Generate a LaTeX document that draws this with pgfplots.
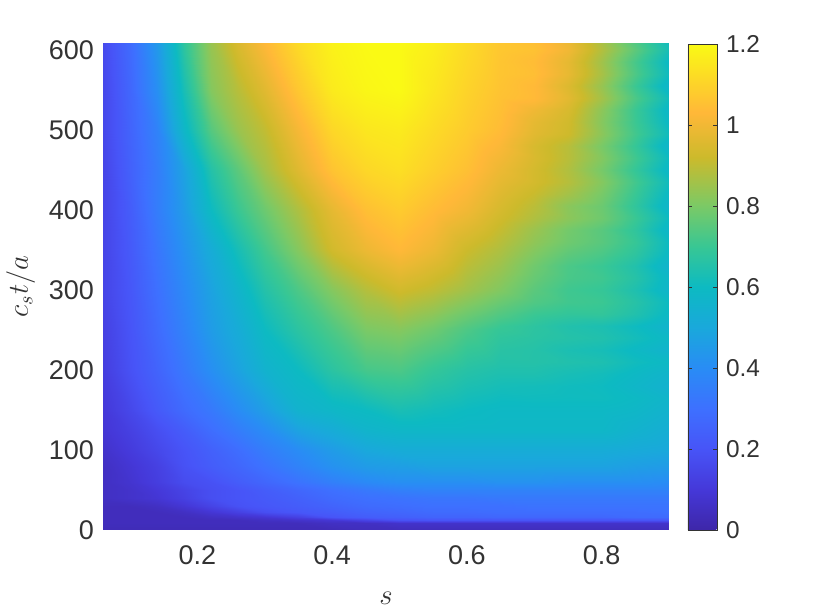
\documentclass[border=0pt]{standalone}
\usepackage{fontspec}
\setmainfont{Liberation Sans}
\usepackage{pgfplots}
\pgfplotsset{compat=1.18}
\definecolor{labgray}{rgb}{0.2,0.2,0.2}
\begin{document}
\begin{tikzpicture}
\path[use as bounding box] (-51.5pt,-40pt) rectangle (363.5pt,265pt);
\begin{axis}[
  at={(0pt,0pt)}, anchor=south west,
  scale only axis, width=283pt, height=243.5pt,
  view={0}{90},
  xmin=0.06, xmax=0.9, ymin=0, ymax=609,
  enlargelimits=false,
  axis line style={draw=none},
  tick style={draw=none},
  xtick={0.2,0.4,0.6,0.8},
  xticklabels={0.2,0.4,0.6,0.8},
  ytick={0,100,200,300,400,500,600},
  yticklabels={0,100,200,300,400,500,600},
  tick label style={font=\fontsize{13.5}{13.5}\selectfont, text=labgray},
  xticklabel style={yshift=-4.5pt},
  yticklabel style={xshift=-1pt},
  xlabel={$s$}, ylabel={$c_s t/a$},
  xlabel style={yshift=-6.5pt},
  label style={font=\fontsize{14}{14}\selectfont, text=labgray},
  % colours, position = value*100
  colormap={parula}{
    rgb(0pt)=(0.2422,0.1504,0.6603); rgb(10pt)=(0.27,0.22,0.85);
    rgb(20pt)=(0.28,0.33,0.97); rgb(30pt)=(0.24,0.44,1);
    rgb(40pt)=(0.16,0.55,0.96); rgb(50pt)=(0.10,0.66,0.86);
    rgb(60pt)=(0.05,0.73,0.76); rgb(70pt)=(0.22,0.78,0.58);
    rgb(80pt)=(0.48,0.79,0.40); rgb(92pt)=(0.80,0.73,0.17);
    rgb(103pt)=(1,0.72,0.22); rgb(120pt)=(0.98,0.98,0.08)},
  point meta min=0, point meta max=1.2,
  colorbar,
  colorbar style={
    at={(parent axis.south east)}, anchor=south west, xshift=1pt,
    width=14.5pt, height=243pt,
    ytick={0,0.2,0.4,0.6,0.8,1,1.2},
    yticklabels={0,0.2,0.4,0.6,0.8,1,1.2},
    tick align=inside, major tick length=2pt,
    axis line style={draw=labgray},
    tick style={draw=labgray},
    tick label style={font=\fontsize{12.2}{12.2}\selectfont, text=labgray},
    yticklabel style={xshift=1pt},
  },
]
% main field
\addplot3[surf, shader=interp, mesh/cols=19] table[row sep=\\] {
x y z\\
0.06 0 .03\\ 0.10 0 .03\\ 0.14 0 .03\\ 0.18 0 .03\\ 0.22 0 .03\\ 0.26 0 .03\\ 0.30 0 .03\\ 0.35 0 .03\\ 0.40 0 .03\\ 0.45 0 .04\\ 0.50 0 .04\\ 0.55 0 .04\\ 0.60 0 .04\\ 0.65 0 .04\\ 0.70 0 .04\\ 0.75 0 .04\\ 0.80 0 .04\\ 0.85 0 .04\\ 0.90 0 .04\\
0.06 9 .04\\ 0.10 9 .04\\ 0.14 9 .04\\ 0.18 9 .04\\ 0.22 9 .04\\ 0.26 9 .04\\ 0.30 9 .04\\ 0.35 9 .04\\ 0.40 9 .055\\ 0.45 9 .055\\ 0.50 9 .07\\ 0.55 9 .07\\ 0.60 9 .07\\ 0.65 9 .07\\ 0.70 9 .07\\ 0.75 9 .07\\ 0.80 9 .07\\ 0.85 9 .07\\ 0.90 9 .07\\
0.06 12 .04\\ 0.10 12 .04\\ 0.14 12 .04\\ 0.18 12 .04\\ 0.22 12 .04\\ 0.26 12 .04\\ 0.30 12 .055\\ 0.35 12 .07\\ 0.40 12 .09\\ 0.45 12 .14\\ 0.50 12 .19\\ 0.55 12 .20\\ 0.60 12 .20\\ 0.65 12 .20\\ 0.70 12 .20\\ 0.75 12 .20\\ 0.80 12 .20\\ 0.85 12 .20\\ 0.90 12 .20\\
0.06 16 .04\\ 0.10 16 .04\\ 0.14 16 .04\\ 0.18 16 .04\\ 0.22 16 .055\\ 0.26 16 .07\\ 0.30 16 .09\\ 0.35 16 .13\\ 0.40 16 .20\\ 0.45 16 .23\\ 0.50 16 .24\\ 0.55 16 .255\\ 0.60 16 .255\\ 0.65 16 .265\\ 0.70 16 .265\\ 0.75 16 .265\\ 0.80 16 .265\\ 0.85 16 .28\\ 0.90 16 .28\\
0.06 22 .04\\ 0.10 22 .04\\ 0.14 22 .04\\ 0.18 22 .055\\ 0.22 22 .09\\ 0.26 22 .13\\ 0.30 22 .18\\ 0.35 22 .21\\ 0.40 22 .23\\ 0.45 22 .255\\ 0.50 22 .265\\ 0.55 22 .28\\ 0.60 22 .28\\ 0.65 22 .29\\ 0.70 22 .29\\ 0.75 22 .29\\ 0.80 22 .29\\ 0.85 22 .29\\ 0.90 22 .30\\
0.06 30 .04\\ 0.10 30 .04\\ 0.14 30 .055\\ 0.18 30 .09\\ 0.22 30 .14\\ 0.26 30 .19\\ 0.30 30 .21\\ 0.35 30 .23\\ 0.40 30 .255\\ 0.45 30 .28\\ 0.50 30 .29\\ 0.55 30 .30\\ 0.60 30 .30\\ 0.65 30 .30\\ 0.70 30 .31\\ 0.75 30 .31\\ 0.80 30 .31\\ 0.85 30 .31\\ 0.90 30 .31\\
0.06 40 .055\\ 0.10 40 .07\\ 0.14 40 .09\\ 0.18 40 .13\\ 0.22 40 .18\\ 0.26 40 .20\\ 0.30 40 .22\\ 0.35 40 .245\\ 0.40 40 .28\\ 0.45 40 .30\\ 0.50 40 .31\\ 0.55 40 .32\\ 0.60 40 .32\\ 0.65 40 .33\\ 0.70 40 .33\\ 0.75 40 .33\\ 0.80 40 .33\\ 0.85 40 .33\\ 0.90 40 .33\\
0.06 50 .055\\ 0.10 50 .07\\ 0.14 50 .10\\ 0.18 50 .14\\ 0.22 50 .18\\ 0.26 50 .20\\ 0.30 50 .23\\ 0.35 50 .265\\ 0.40 50 .30\\ 0.45 50 .33\\ 0.50 50 .355\\ 0.55 50 .365\\ 0.60 50 .365\\ 0.65 50 .365\\ 0.70 50 .365\\ 0.75 50 .365\\ 0.80 50 .365\\ 0.85 50 .365\\ 0.90 50 .365\\
0.06 60 .055\\ 0.10 60 .08\\ 0.14 60 .12\\ 0.18 60 .17\\ 0.22 60 .19\\ 0.26 60 .23\\ 0.30 60 .265\\ 0.35 60 .31\\ 0.40 60 .355\\ 0.45 60 .39\\ 0.50 60 .41\\ 0.55 60 .41\\ 0.60 60 .41\\ 0.65 60 .42\\ 0.70 60 .42\\ 0.75 60 .41\\ 0.80 60 .41\\ 0.85 60 .41\\ 0.90 60 .40\\
0.06 80 .055\\ 0.10 80 .09\\ 0.14 80 .13\\ 0.18 80 .19\\ 0.22 80 .23\\ 0.26 80 .265\\ 0.30 80 .31\\ 0.35 80 .365\\ 0.40 80 .42\\ 0.45 80 .455\\ 0.50 80 .465\\ 0.55 80 .48\\ 0.60 80 .48\\ 0.65 80 .48\\ 0.70 80 .48\\ 0.75 80 .48\\ 0.80 80 .48\\ 0.85 80 .465\\ 0.90 80 .455\\
0.06 100 .07\\ 0.10 100 .11\\ 0.14 100 .155\\ 0.18 100 .20\\ 0.22 100 .245\\ 0.26 100 .29\\ 0.30 100 .345\\ 0.35 100 .40\\ 0.40 100 .455\\ 0.45 100 .50\\ 0.50 100 .52\\ 0.55 100 .52\\ 0.60 100 .52\\ 0.65 100 .52\\ 0.70 100 .52\\ 0.75 100 .52\\ 0.80 100 .52\\ 0.85 100 .51\\ 0.90 100 .50\\
0.06 125 .09\\ 0.10 125 .13\\ 0.14 125 .18\\ 0.18 125 .23\\ 0.22 125 .29\\ 0.26 125 .345\\ 0.30 125 .40\\ 0.35 125 .48\\ 0.40 125 .52\\ 0.45 125 .565\\ 0.50 125 .58\\ 0.55 125 .58\\ 0.60 125 .58\\ 0.65 125 .58\\ 0.70 125 .58\\ 0.75 125 .58\\ 0.80 125 .58\\ 0.85 125 .555\\ 0.90 125 .53\\
0.06 150 .10\\ 0.10 150 .155\\ 0.14 150 .22\\ 0.18 150 .28\\ 0.22 150 .33\\ 0.26 150 .40\\ 0.30 150 .465\\ 0.35 150 .555\\ 0.40 150 .58\\ 0.45 150 .60\\ 0.50 150 .63\\ 0.55 150 .615\\ 0.60 150 .60\\ 0.65 150 .59\\ 0.70 150 .59\\ 0.75 150 .59\\ 0.80 150 .59\\ 0.85 150 .58\\ 0.90 150 .555\\
0.06 200 .12\\ 0.10 200 .19\\ 0.14 200 .255\\ 0.18 200 .33\\ 0.22 200 .41\\ 0.26 200 .48\\ 0.30 200 .555\\ 0.35 200 .60\\ 0.40 200 .67\\ 0.45 200 .72\\ 0.50 200 .73\\ 0.55 200 .69\\ 0.60 200 .66\\ 0.65 200 .645\\ 0.70 200 .645\\ 0.75 200 .63\\ 0.80 200 .62\\ 0.85 200 .59\\ 0.90 200 .565\\
0.06 250 .13\\ 0.10 250 .20\\ 0.14 250 .28\\ 0.18 250 .365\\ 0.22 250 .455\\ 0.26 250 .52\\ 0.30 250 .60\\ 0.35 250 .67\\ 0.40 250 .73\\ 0.45 250 .80\\ 0.50 250 .815\\ 0.55 250 .78\\ 0.60 250 .73\\ 0.65 250 .69\\ 0.70 250 .67\\ 0.75 250 .655\\ 0.80 250 .645\\ 0.85 250 .615\\ 0.90 250 .58\\
0.06 300 .145\\ 0.10 300 .21\\ 0.14 300 .30\\ 0.18 300 .39\\ 0.22 300 .48\\ 0.26 300 .565\\ 0.30 300 .655\\ 0.35 300 .73\\ 0.40 300 .815\\ 0.45 300 .885\\ 0.50 300 .93\\ 0.55 300 .90\\ 0.60 300 .855\\ 0.65 300 .81\\ 0.70 300 .755\\ 0.75 300 .715\\ 0.80 300 .68\\ 0.85 300 .63\\ 0.90 300 .58\\
0.06 350 .145\\ 0.10 350 .22\\ 0.14 350 .32\\ 0.18 350 .42\\ 0.22 350 .52\\ 0.26 350 .625\\ 0.30 350 .715\\ 0.35 350 .815\\ 0.40 350 .93\\ 0.45 350 .99\\ 0.50 350 1.03\\ 0.55 350 .99\\ 0.60 350 .92\\ 0.65 350 .875\\ 0.70 350 .81\\ 0.75 350 .755\\ 0.80 350 .705\\ 0.85 350 .655\\ 0.90 350 .58\\
0.06 400 .145\\ 0.10 400 .23\\ 0.14 400 .345\\ 0.18 400 .455\\ 0.22 400 .60\\ 0.26 400 .70\\ 0.30 400 .78\\ 0.35 400 .875\\ 0.40 400 .975\\ 0.45 400 1.05\\ 0.50 400 1.08\\ 0.55 400 1.04\\ 0.60 400 1.00\\ 0.65 400 .94\\ 0.70 400 .895\\ 0.75 400 .83\\ 0.80 400 .765\\ 0.85 400 .68\\ 0.90 400 .59\\
0.06 450 .145\\ 0.10 450 .245\\ 0.14 450 .345\\ 0.18 450 .48\\ 0.22 450 .655\\ 0.26 450 .755\\ 0.30 450 .86\\ 0.35 450 .96\\ 0.40 450 1.06\\ 0.45 450 1.11\\ 0.50 450 1.13\\ 0.55 450 1.09\\ 0.60 450 1.05\\ 0.65 450 .99\\ 0.70 450 .94\\ 0.75 450 .885\\ 0.80 450 .78\\ 0.85 450 .68\\ 0.90 450 .59\\
0.06 500 .155\\ 0.10 500 .255\\ 0.14 500 .365\\ 0.18 500 .58\\ 0.22 500 .745\\ 0.26 500 .845\\ 0.30 500 .905\\ 0.35 500 1.01\\ 0.40 500 1.11\\ 0.45 500 1.15\\ 0.50 500 1.16\\ 0.55 500 1.12\\ 0.60 500 1.08\\ 0.65 500 1.04\\ 0.70 500 .96\\ 0.75 500 .915\\ 0.80 500 .80\\ 0.85 500 .70\\ 0.90 500 .59\\
0.06 550 .155\\ 0.10 550 .265\\ 0.14 550 .41\\ 0.18 550 .63\\ 0.22 550 .815\\ 0.26 550 .89\\ 0.30 550 .965\\ 0.35 550 1.07\\ 0.40 550 1.16\\ 0.45 550 1.19\\ 0.50 550 1.20\\ 0.55 550 1.15\\ 0.60 550 1.10\\ 0.65 550 1.06\\ 0.70 550 1.04\\ 0.75 550 .96\\ 0.80 550 .85\\ 0.85 550 .72\\ 0.90 550 .59\\
0.06 609 .165\\ 0.10 609 .28\\ 0.14 609 .445\\ 0.18 609 .68\\ 0.22 609 .845\\ 0.26 609 .95\\ 0.30 609 1.03\\ 0.35 609 1.12\\ 0.40 609 1.18\\ 0.45 609 1.20\\ 0.50 609 1.20\\ 0.55 609 1.17\\ 0.60 609 1.12\\ 0.65 609 1.07\\ 0.70 609 1.05\\ 0.75 609 .99\\ 0.80 609 .87\\ 0.85 609 .74\\ 0.90 609 .61\\
};
% horizontal streaks towards the right edge
\addplot3[surf, shader=interp, mesh/cols=6] table[row sep=\\] {
x y z\\
0.65 150 .59\\ 0.70 150 .59\\ 0.75 150 .59\\ 0.80 150 .59\\ 0.85 150 .58\\ 0.90 150 .555\\
0.65 165 .605\\ 0.70 165 .608\\ 0.75 165 .606\\ 0.80 165 .607\\ 0.85 165 .593\\ 0.90 165 .568\\
0.65 180 .62\\ 0.70 180 .617\\ 0.75 180 .609\\ 0.80 180 .603\\ 0.85 180 .577\\ 0.90 180 .55\\
0.65 195 .64\\ 0.70 195 .64\\ 0.75 195 .625\\ 0.80 195 .615\\ 0.85 195 .59\\ 0.90 195 .565\\
0.65 210 .655\\ 0.70 210 .656\\ 0.75 210 .647\\ 0.80 210 .639\\ 0.85 210 .611\\ 0.90 210 .59\\
0.65 225 .665\\ 0.70 225 .657\\ 0.75 225 .634\\ 0.80 225 .623\\ 0.85 225 .592\\ 0.90 225 .56\\
0.65 240 .68\\ 0.70 240 .668\\ 0.75 240 .656\\ 0.80 240 .647\\ 0.85 240 .618\\ 0.90 240 .585\\
0.65 255 .70\\ 0.70 255 .674\\ 0.75 255 .648\\ 0.80 255 .636\\ 0.85 255 .604\\ 0.90 255 .56\\
0.65 270 .74\\ 0.70 270 .703\\ 0.75 270 .686\\ 0.80 270 .687\\ 0.85 270 .648\\ 0.90 270 .59\\
0.65 285 .775\\ 0.70 285 .736\\ 0.75 285 .712\\ 0.80 285 .704\\ 0.85 285 .661\\ 0.90 285 .60\\
0.65 300 .81\\ 0.70 300 .752\\ 0.75 300 .709\\ 0.80 300 .693\\ 0.85 300 .642\\ 0.90 300 .57\\
0.65 315 .83\\ 0.70 315 .77\\ 0.75 315 .725\\ 0.80 315 .71\\ 0.85 315 .66\\ 0.90 315 .58\\
0.65 330 .85\\ 0.70 330 .784\\ 0.75 330 .728\\ 0.80 330 .701\\ 0.85 330 .649\\ 0.90 330 .56\\
0.65 345 .87\\ 0.70 345 .808\\ 0.75 345 .756\\ 0.80 345 .727\\ 0.85 345 .678\\ 0.90 345 .59\\
0.65 360 .89\\ 0.70 360 .831\\ 0.75 360 .782\\ 0.80 360 .749\\ 0.85 360 .696\\ 0.90 360 .60\\
0.65 375 .91\\ 0.70 375 .847\\ 0.75 375 .789\\ 0.80 375 .748\\ 0.85 375 .682\\ 0.90 375 .575\\
0.65 390 .93\\ 0.70 390 .878\\ 0.75 390 .826\\ 0.80 390 .782\\ 0.85 390 .703\\ 0.90 390 .60\\
0.65 405 .945\\ 0.70 405 .894\\ 0.75 405 .823\\ 0.80 405 .776\\ 0.85 405 .684\\ 0.90 405 .57\\
0.65 420 .96\\ 0.70 420 .915\\ 0.75 420 .86\\ 0.80 420 .795\\ 0.85 420 .70\\ 0.90 420 .59\\
0.65 435 .975\\ 0.70 435 .936\\ 0.75 435 .887\\ 0.80 435 .814\\ 0.85 435 .716\\ 0.90 435 .61\\
0.65 450 .99\\ 0.70 450 .937\\ 0.75 450 .879\\ 0.80 450 .793\\ 0.85 450 .692\\ 0.90 450 .58\\
0.65 465 1.005\\ 0.70 465 .948\\ 0.75 465 .891\\ 0.80 465 .812\\ 0.85 465 .713\\ 0.90 465 .60\\
0.65 480 1.02\\ 0.70 480 .944\\ 0.75 480 .89\\ 0.80 480 .796\\ 0.85 480 .694\\ 0.90 480 .57\\
0.65 495 1.035\\ 0.70 495 .966\\ 0.75 495 .925\\ 0.80 495 .824\\ 0.85 495 .716\\ 0.90 495 .61\\
0.65 510 1.045\\ 0.70 510 .975\\ 0.75 510 .93\\ 0.80 510 .815\\ 0.85 510 .705\\ 0.90 510 .59\\
0.65 525 1.05\\ 0.70 525 .997\\ 0.75 525 .945\\ 0.80 525 .825\\ 0.85 525 .702\\ 0.90 525 .58\\
0.65 540 1.055\\ 0.70 540 1.036\\ 0.75 540 .97\\ 0.80 540 .86\\ 0.85 540 .731\\ 0.90 540 .61\\
0.65 555 1.06\\ 0.70 555 1.034\\ 0.75 555 .955\\ 0.80 555 .84\\ 0.85 555 .704\\ 0.90 555 .57\\
0.65 570 1.065\\ 0.70 570 1.048\\ 0.75 570 .98\\ 0.80 570 .865\\ 0.85 570 .733\\ 0.90 570 .605\\
0.65 585 1.065\\ 0.70 585 1.042\\ 0.75 585 .975\\ 0.80 585 .855\\ 0.85 585 .722\\ 0.90 585 .59\\
0.65 600 1.07\\ 0.70 600 1.056\\ 0.75 600 1.00\\ 0.80 600 .88\\ 0.85 600 .756\\ 0.90 600 .625\\
0.65 609 1.07\\ 0.70 609 1.05\\ 0.75 609 .99\\ 0.80 609 .87\\ 0.85 609 .74\\ 0.90 609 .61\\
};
\end{axis}
\end{tikzpicture}
\end{document}
